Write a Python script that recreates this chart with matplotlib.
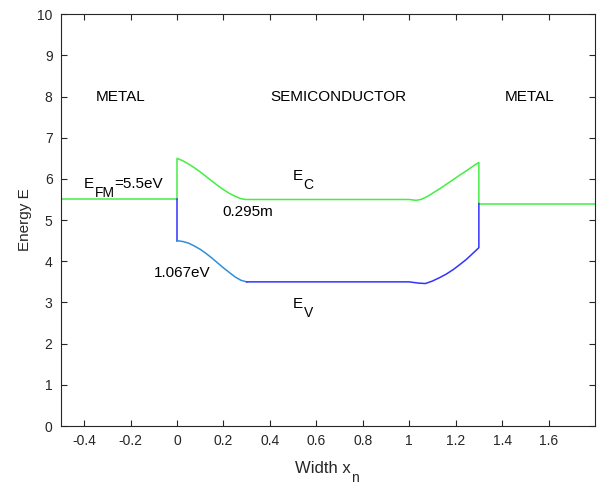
import matplotlib
matplotlib.use("Agg")
import matplotlib.pyplot as plt

plt.rcParams['font.family'] = ['Liberation Sans', 'DejaVu Sans']

# metal levels
metal_left_x = [-0.5, 0.0]
metal_left_E = [5.5, 5.5]
metal_right_x = [1.3, 1.8]
metal_right_E = [5.4, 5.4]

# conduction band edge
ec_x = [0.0, 0.0, 0.025, 0.05, 0.075, 0.1, 0.125, 0.15, 0.175, 0.2, 0.225, 0.25, 0.275, 0.295,
        1.0, 1.03, 1.05, 1.074, 1.1, 1.131, 1.16, 1.189, 1.22, 1.247, 1.275, 1.3, 1.3]
ec_E = [5.5, 6.5, 6.44, 6.36, 6.27, 6.17, 6.06, 5.95, 5.84, 5.74, 5.65, 5.58, 5.52, 5.5,
        5.5, 5.48, 5.5, 5.56, 5.65, 5.76, 5.87, 5.98, 6.1, 6.2, 6.31, 6.4, 5.4]

# valence band edge
ev_jump_x = [0.0, 0.0]
ev_jump_E = [5.5, 4.5]
ev_left_x = [0.0, 0.025, 0.05, 0.075, 0.1, 0.125, 0.15, 0.175, 0.2, 0.225, 0.25, 0.275, 0.3]
ev_left_E = [4.5, 4.48, 4.44, 4.37, 4.29, 4.19, 4.08, 3.96, 3.84, 3.73, 3.62, 3.54, 3.5]
ev_right_x = [0.3, 1.0, 1.04, 1.07, 1.1, 1.13, 1.16, 1.19, 1.218, 1.245, 1.268, 1.3, 1.3]
ev_right_E = [3.5, 3.5, 3.47, 3.46, 3.52, 3.6, 3.69, 3.8, 3.92, 4.04, 4.16, 4.33, 5.4]

axcol = '#262626'
fs = 11


def sub_text(ax, x, y, main, sub, rest='', size=fs, subsize=10, color='black'):
    # MATLAB style subscript: smaller text dropped below the baseline
    t1 = ax.text(x, y, main, fontsize=size, va='center', color=color)
    t2 = ax.annotate(sub, xy=(1, 0.5), xycoords=t1, xytext=(0.3, -6.5), textcoords='offset points',
                     fontsize=subsize, va='center', ha='left', color=color)
    if rest:
        ax.annotate(rest, xy=(1, 0.5), xycoords=(t2, t1), fontsize=size,
                    va='center', ha='left', color=color)
    return t1


fig = plt.figure(figsize=(5.97, 4.88), dpi=100)
ax = fig.add_axes([0.102, 0.127, 0.8946, 0.844])

green = '#44ee44'
ax.plot(metal_left_x, metal_left_E, color=green, lw=1.1)
ax.plot(metal_right_x, metal_right_E, color=green, lw=1.1)
ax.plot(ec_x, ec_E, color=green, lw=1.1)
ax.plot(ev_jump_x, ev_jump_E, color='#3333ff', lw=1.1)
ax.plot(ev_left_x, ev_left_E, color='#2f8fd8', lw=1.1)
ax.plot(ev_right_x, ev_right_E, color='#3333ff', lw=1.1)

ax.text(-0.35, 8, 'METAL', fontsize=fs, va='center', color='black')
ax.text(0.40, 8, 'SEMICONDUCTOR', fontsize=fs, va='center', color='black')
ax.text(1.41, 8, 'METAL', fontsize=fs, va='center', color='black')
sub_text(ax, -0.40, 5.87, 'E', 'FM', '=5.5eV')
sub_text(ax, 0.50, 6.07, 'E', 'C')
ax.text(0.195, 5.19, '0.295m', fontsize=fs, va='center', color='black')
ax.text(-0.10, 3.71, '1.067eV', fontsize=fs, va='center', color='black')
sub_text(ax, 0.50, 2.97, 'E', 'V')

ax.set_xlim(-0.5, 1.8)
ax.set_ylim(0, 10)
ax.set_xticks([-0.4, -0.2, 0, 0.2, 0.4, 0.6, 0.8, 1, 1.2, 1.4, 1.6])
ax.set_xticklabels(['-0.4', '-0.2', '0', '0.2', '0.4', '0.6', '0.8', '1', '1.2', '1.4', '1.6'])
ax.set_yticks(range(0, 11))
ax.tick_params(direction='in', top=True, right=True, length=4, width=0.8,
               colors=axcol, labelsize=10, pad=6)
for s in ax.spines.values():
    s.set_color(axcol)
    s.set_linewidth(0.8)

xl = ax.set_xlabel('Width x', fontsize=12, color=axcol)
ax.xaxis.set_label_coords(0.49, -0.085)
ax.annotate('n', xy=(1, 0.5), xycoords=xl, xytext=(0.5, -7), textcoords='offset points',
            fontsize=10, va='center', ha='left', color=axcol)
ax.set_ylabel('Energy E', fontsize=11, color=axcol)

fig.savefig('out.png', dpi=100)
